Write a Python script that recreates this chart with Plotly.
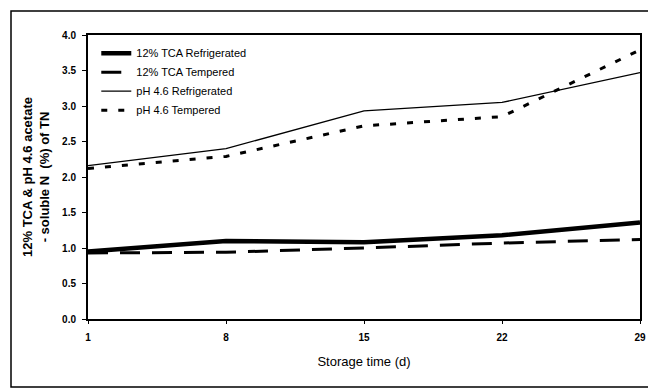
import plotly.graph_objects as go

days = [1, 8, 15, 22, 29]
tick_labels = ["1", "8", "15", "22", "29"]
tca_refrigerated = [0.95, 1.10, 1.08, 1.18, 1.36]
tca_tempered = [0.93, 0.94, 1.00, 1.07, 1.12]
ph_refrigerated = [2.16, 2.40, 2.93, 3.05, 3.47]
ph_tempered = [2.12, 2.29, 2.72, 2.85, 3.79]

series_names = ["12% TCA Refrigerated", "12% TCA Tempered",
                "pH 4.6 Refrigerated", "pH 4.6 Tempered"]

fig = go.Figure()
fig.add_trace(go.Scatter(x=days, y=tca_refrigerated, mode="lines", name=series_names[0],
                         line=dict(color="black", width=4.5)))
fig.add_trace(go.Scatter(x=days, y=tca_tempered, mode="lines", name=series_names[1],
                         line=dict(color="black", width=3, dash="20px,12px")))
fig.add_trace(go.Scatter(x=days, y=ph_refrigerated, mode="lines", name=series_names[2],
                         line=dict(color="black", width=1.3)))
fig.add_trace(go.Scatter(x=days, y=ph_tempered, mode="lines", name=series_names[3],
                         line=dict(color="black", width=3, dash="6px,11px")))

font_family = "Liberation Sans, Arial, sans-serif"

# page has an 8px body margin; figure sized to fit the 656x392 window
W, H = 648, 384
L, T = 80, 27
R = W - (640 - 8)
B = H - (319 - 8)
pw, ph = W - L - R, H - T - B

fig.update_layout(
    width=W, height=H,
    margin=dict(l=L, r=R, t=T, b=B, autoexpand=False),
    paper_bgcolor="white", plot_bgcolor="white",
    font=dict(family=font_family, size=10, color="black"),
    showlegend=True,
    legend=dict(x=0.015, y=0.987, xanchor="left", yanchor="top",
                bgcolor="rgba(0,0,0,0)", borderwidth=0,
                font=dict(size=11, color="black"), tracegroupgap=0,
                itemwidth=30),
    xaxis=dict(range=[1, 29], tickvals=days, ticktext=tick_labels,
               automargin=False,
               showgrid=False, zeroline=False, showline=True, linecolor="black",
               linewidth=2, mirror=True, ticks="outside", ticklen=3,
               tickcolor="black", tickfont=dict(size=10, weight="bold"),
               ticklabelstandoff=5,
               title=dict(text="Storage time (d)", font=dict(size=13), standoff=15)),
    yaxis=dict(range=[0, 4], dtick=0.5, tickformat=".1f",
               automargin=False,
               showgrid=False, zeroline=False, showline=True, linecolor="black",
               linewidth=2, mirror=True, ticks="outside", ticklen=4,
               tickcolor="black", tickfont=dict(size=10, weight="bold"),
               ticklabelstandoff=4,
               title=dict(text="12% TCA & pH 4.6 acetate<br>- soluble N  (%) of TN",
                          font=dict(size=13, weight="bold"), standoff=10)),
)

fig.add_shape(type="rect", xref="paper", yref="paper",
              x0=(11 - 8 - L) / pw, x1=(651 - 8 - L) / pw,
              y0=(H - B - (387 - 8)) / ph, y1=(H - B - (11 - 8)) / ph,
              line=dict(color="black", width=1.5), layer="below")

fig.write_html("out.html")
